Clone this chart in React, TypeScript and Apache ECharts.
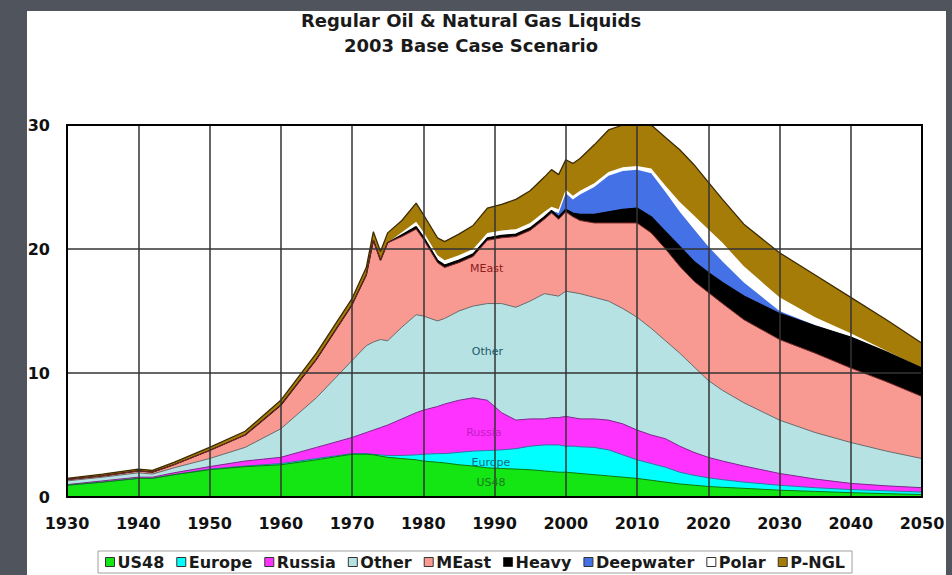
import React, { useEffect, useRef } from "react";
import * as echarts from "echarts";

const FONT = "'DejaVu Sans', 'Liberation Sans', sans-serif";

const titleLines = ["Regular Oil & Natural Gas Liquids", "2003 Base Case Scenario"];

const years = [1930, 1935, 1940, 1942, 1945, 1950, 1955, 1960, 1965, 1970, 1972, 1973, 1974, 1975, 1977, 1979, 1980, 1982, 1983, 1985, 1987, 1989, 1991, 1993, 1995, 1997, 1998, 1999, 2000, 2001, 2002, 2004, 2006, 2008, 2010, 2012, 2014, 2016, 2018, 2020, 2022, 2025, 2030, 2035, 2040, 2045, 2050];

const us48 = [0.95, 1.2, 1.5, 1.5, 1.8, 2.2, 2.45, 2.6, 3.0, 3.45, 3.45, 3.4, 3.3, 3.2, 3.1, 3.0, 2.9, 2.8, 2.75, 2.6, 2.5, 2.35, 2.3, 2.25, 2.2, 2.1, 2.05, 2.0, 2.0, 1.95, 1.9, 1.8, 1.7, 1.6, 1.5, 1.35, 1.2, 1.05, 0.95, 0.85, 0.78, 0.7, 0.55, 0.45, 0.35, 0.27, 0.2];
const europe = [0, 0, 0, 0, 0, 0.05, 0.05, 0.1, 0.1, 0.05, 0.05, 0.05, 0.1, 0.15, 0.25, 0.4, 0.55, 0.7, 0.75, 1.0, 1.2, 1.4, 1.5, 1.65, 1.9, 2.1, 2.15, 2.2, 2.1, 2.15, 2.15, 2.2, 2.1, 1.8, 1.5, 1.35, 1.2, 0.95, 0.8, 0.7, 0.62, 0.5, 0.4, 0.3, 0.25, 0.23, 0.2];
const russia = [0.05, 0.1, 0.1, 0.1, 0.15, 0.2, 0.4, 0.5, 0.9, 1.3, 1.7, 1.95, 2.2, 2.45, 2.95, 3.4, 3.55, 3.8, 4.0, 4.2, 4.3, 4.05, 3.0, 2.3, 2.2, 2.1, 2.2, 2.2, 2.4, 2.3, 2.25, 2.3, 2.4, 2.5, 2.4, 2.3, 2.3, 2.1, 1.85, 1.65, 1.5, 1.3, 0.95, 0.7, 0.5, 0.4, 0.35];
const other = [0.3, 0.3, 0.35, 0.25, 0.4, 0.65, 1.1, 2.3, 4.0, 6.2, 7.0, 7.1, 7.1, 6.8, 7.4, 7.9, 7.6, 6.9, 6.9, 7.2, 7.4, 7.8, 8.8, 9.1, 9.5, 10.1, 9.9, 9.8, 10.1, 10.1, 10.1, 9.8, 9.6, 9.3, 9.1, 8.6, 7.9, 7.5, 6.9, 6.2, 5.7, 5.1, 4.3, 3.75, 3.3, 2.8, 2.35];
const meast = [0.1, 0.1, 0.15, 0.15, 0.25, 0.65, 1.0, 1.9, 3.1, 4.5, 5.7, 8.2, 6.4, 7.9, 7.3, 6.9, 6.2, 4.7, 4.1, 3.9, 4.0, 5.1, 5.3, 5.7, 5.7, 6.0, 6.6, 6.2, 6.4, 6.1, 5.9, 6.0, 6.3, 6.9, 7.6, 7.7, 7.4, 7.0, 6.9, 7.1, 7.0, 6.7, 6.5, 6.4, 6.0, 5.6, 5.0];
const heavy = [0, 0, 0, 0, 0, 0, 0, 0, 0, 0, 0, 0, 0, 0, 0.15, 0.2, 0.2, 0.2, 0.2, 0.2, 0.2, 0.2, 0.2, 0.2, 0.2, 0.2, 0.2, 0.2, 0.2, 0.3, 0.5, 0.7, 0.9, 1.1, 1.2, 1.3, 1.4, 1.6, 1.6, 1.6, 1.7, 1.9, 2.1, 2.2, 2.5, 2.4, 2.3];
const deepwater = [0, 0, 0, 0, 0, 0, 0, 0, 0, 0, 0, 0, 0, 0, 0, 0, 0, 0, 0, 0, 0, 0, 0, 0, 0, 0, 0, 0.3, 1.3, 1.1, 1.6, 2.2, 2.9, 3.1, 3.1, 3.5, 3.2, 2.8, 2.6, 2.1, 1.7, 1.1, 0.2, 0.05, 0, 0, 0];
const polar = [0, 0, 0, 0, 0, 0, 0, 0, 0, 0, 0, 0, 0, 0, 0.2, 0.4, 0.4, 0.4, 0.4, 0.4, 0.4, 0.4, 0.4, 0.4, 0.4, 0.4, 0.3, 0.3, 0.3, 0.3, 0.3, 0.3, 0.3, 0.3, 0.3, 0.4, 0.5, 0.8, 1.1, 1.4, 1.5, 1.3, 1.1, 0.65, 0.3, 0.1, 0];
const pngl = [0.1, 0.15, 0.15, 0.15, 0.2, 0.25, 0.3, 0.4, 0.5, 0.5, 0.6, 0.7, 0.7, 0.8, 0.95, 1.5, 1.4, 1.4, 1.5, 1.7, 1.9, 2.0, 2.1, 2.4, 2.6, 2.8, 3.0, 2.8, 2.4, 2.6, 2.6, 3.1, 3.4, 3.4, 3.3, 3.5, 3.9, 4.2, 4.1, 3.8, 3.5, 3.4, 3.6, 3.4, 2.9, 2.5, 2.0];

const seriesNames = ["US48", "Europe", "Russia", "Other", "MEast", "Heavy", "Deepwater", "Polar", "P-NGL"];
const layers = [us48, europe, russia, other, meast, heavy, deepwater, polar, pngl];
const fillColors = ["#14e614", "#00ffff", "#ff33ff", "#b6e2e4", "#f99a92", "#000000", "#4472e6", "#ffffff", "#a67c08"];
const lineColors = ["#0b7a0b", "#3a6fa0", "#7a2a8a", "#6a6a6a", "#7a2a2a", "#000000", "#2a4aa8", "#ffffff", "#3c2a00"];
const lineWidths = [1, 1, 1, 1, 1, 1.3, 0, 0, 1.3];

const areaLabels = [
  { text: "MEast", year: 1988.9, value: 18.4, color: "#8b1c1c" },
  { text: "Other", year: 1989, value: 11.7, color: "#1d5868" },
  { text: "Russia", year: 1988.5, value: 5.2, color: "#c41cc4" },
  { text: "Europe", year: 1989.5, value: 2.8, color: "#1d6878" },
  { text: "US48", year: 1989.5, value: 1.2, color: "#1c7a1c" },
];

export default function App() {
  const ref = useRef<HTMLDivElement>(null);

  useEffect(() => {
    if (!ref.current) return;
    const chart = echarts.init(ref.current, undefined, { renderer: "svg" });

    // cumulative tops of each layer (stacked manually, since both axes are numeric)
    const cumulative: number[][] = [];
    layers.forEach((arr, i) => {
      cumulative.push(arr.map((v, j) => +((i > 0 ? cumulative[i - 1][j] : 0) + v).toFixed(3)));
    });

    // draw from the top layer down so lower layers paint over the upper fills
    const order = seriesNames.map((_, i) => i).reverse();
    const series: any[] = order.map((i) => ({
      name: seriesNames[i],
      type: "line",
      xAxisIndex: 0,
      yAxisIndex: 0,
      data: years.map((y, j) => [y, cumulative[i][j]]),
      showSymbol: false,
      symbol: "none",
      color: fillColors[i],
      itemStyle: { color: fillColors[i] },
      lineStyle: { color: lineColors[i], width: lineWidths[i] },
      areaStyle: { color: fillColors[i], opacity: 1, origin: "start" },
      emphasis: { disabled: true },
      silent: true,
    }));

    series[series.length - 1].markPoint = {
      symbol: "rect",
      symbolSize: 0,
      silent: true,
      label: { show: true, position: "inside", formatter: "{b}", fontFamily: FONT, fontSize: 11 },
      data: areaLabels.map((l) => ({
        name: l.text,
        coord: [l.year, l.value],
        label: { color: l.color },
      })),
    };

    const axisCommon = { min: 1930, max: 2050, interval: 10 };

    chart.setOption({
      animation: false,
      backgroundColor: "transparent",
      graphic: [
        {
          type: "text",
          x: 471,
          y: 20,
          silent: true,
          style: { text: titleLines[0], fontFamily: FONT, fontWeight: "bold", fontSize: 18, fill: "#1a1a1a", align: "center", verticalAlign: "middle" },
        },
        {
          type: "text",
          x: 471,
          y: 45,
          silent: true,
          style: { text: titleLines[1], fontFamily: FONT, fontWeight: "bold", fontSize: 18, fill: "#1a1a1a", align: "center", verticalAlign: "middle" },
        },
      ],
      grid: { left: 67, right: 30, top: 125, bottom: 78, show: false },
      legend: {
        data: seriesNames,
        left: 98,
        top: 551,
        icon: "rect",
        itemWidth: 9,
        itemHeight: 9,
        itemGap: 12,
        padding: [3, 7, 3, 7],
        borderColor: "#a0a0a0",
        borderWidth: 1,
        backgroundColor: "#ffffff",
        selectedMode: false,
        itemStyle: { borderColor: "#333333", borderWidth: 1 },
        textStyle: { fontFamily: FONT, fontWeight: "bold", fontSize: 16, color: "#1a1a1a", padding: [0, 0, 0, -2] },
      },
      xAxis: [
        {
          type: "value",
          ...axisCommon,
          position: "bottom",
          z: 5,
          axisLine: { show: true, onZero: false, lineStyle: { color: "#000", width: 2 } },
          axisTick: { show: false },
          axisLabel: { fontFamily: FONT, fontWeight: "bold", fontSize: 16, color: "#111", margin: 18, formatter: (v: number) => String(v) },
          splitLine: { show: true, lineStyle: { color: "#333", width: 1.5 } },
        },
        {
          type: "value",
          ...axisCommon,
          position: "top",
          z: 5,
          axisLine: { show: true, onZero: false, lineStyle: { color: "#000", width: 2 } },
          axisTick: { show: false },
          axisLabel: { show: false },
          splitLine: { show: false },
        },
      ],
      yAxis: [
        {
          type: "value",
          min: 0,
          max: 30,
          interval: 10,
          position: "left",
          z: 5,
          axisLine: { show: true, onZero: false, lineStyle: { color: "#000", width: 2 } },
          axisTick: { show: false },
          axisLabel: { fontFamily: FONT, fontWeight: "bold", fontSize: 16, color: "#111", margin: 17 },
          splitLine: { show: true, lineStyle: { color: "#333", width: 1.5 } },
        },
        {
          type: "value",
          min: 0,
          max: 30,
          interval: 10,
          position: "right",
          z: 5,
          axisLine: { show: true, onZero: false, lineStyle: { color: "#000", width: 2 } },
          axisTick: { show: false },
          axisLabel: { show: false },
          splitLine: { show: false },
        },
      ],
      series,
    });

    return () => chart.dispose();
  }, []);

  return (
    <div style={{ position: "fixed", left: 0, top: 0, width: 952, height: 575, background: "#50545c", overflow: "hidden" }}>
      <div style={{ position: "absolute", left: 27, top: 11, width: 919, height: 564, background: "#ffffff" }} />
      <div ref={ref} style={{ position: "absolute", left: 0, top: 0, width: 952, height: 575 }} />
    </div>
  );
}
